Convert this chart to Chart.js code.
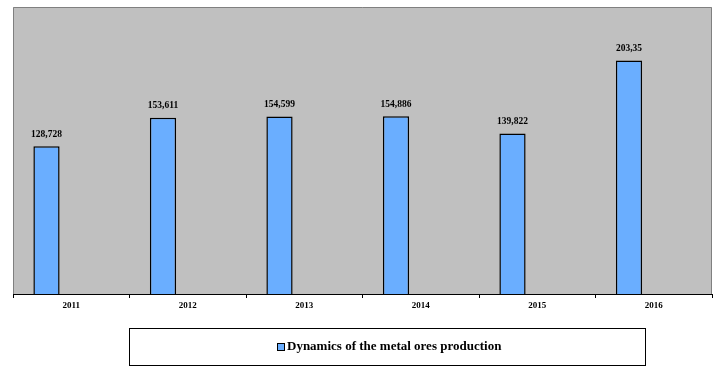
<!DOCTYPE html>
<html>
<head>
<meta charset="utf-8">
<script src="https://cdn.jsdelivr.net/npm/chart.js@4.4.0/dist/chart.umd.min.js"></script>
<style>
html,body{margin:0;padding:0;background:#fff;}
#wrap{width:720px;height:373px;position:relative;}
</style>
</head>
<body>
<div id="wrap"><canvas id="c" width="720" height="373"></canvas></div>
<script>
const categories = ['2011', '2012', '2013', '2014', '2015', '2016'];
const values = [128.728, 153.611, 154.599, 154.886, 139.822, 203.35];
const valueLabels = ['128,728', '153,611', '154,599', '154,886', '139,822', '203,35'];
const seriesName = 'Dynamics of the metal ores production';
const emptySeries = [];

const SERIF = '"Liberation Serif", "Times New Roman", serif';
const BAR_COLOR = '#6AAEFF';

const plotBg = {
  id: 'plotBg',
  beforeDatasetsDraw(chart) {
    const {ctx, chartArea: a} = chart;
    ctx.save();
    ctx.fillStyle = '#C0C0C0';
    ctx.fillRect(a.left, a.top, a.right - a.left, a.bottom - a.top);
    ctx.strokeStyle = '#808080';
    ctx.lineWidth = 1;
    ctx.beginPath();
    ctx.moveTo(a.left + 0.5, a.bottom);
    ctx.lineTo(a.left + 0.5, a.top + 0.5);
    ctx.lineTo(a.right - 0.5, a.top + 0.5);
    ctx.lineTo(a.right - 0.5, a.bottom);
    ctx.stroke();
    ctx.restore();
  }
};

const valueLabelsPlugin = {
  id: 'valueLabels',
  afterDatasetsDraw(chart) {
    const {ctx} = chart;
    const meta = chart.getDatasetMeta(0);
    ctx.save();
    ctx.font = 'bold 9.5px ' + SERIF;
    ctx.fillStyle = '#000';
    ctx.textAlign = 'center';
    ctx.textBaseline = 'middle';
    meta.data.forEach((bar, i) => {
      ctx.fillText(valueLabels[i], bar.x, bar.y - 12);
    });
    ctx.restore();
  }
};

const legendBox = {
  id: 'legendBox',
  afterDraw(chart) {
    const {ctx} = chart;
    const bx = 129, by = 328, bw = 516, bh = 37;
    ctx.save();
    ctx.fillStyle = '#fff';
    ctx.fillRect(bx, by, bw, bh);
    ctx.strokeStyle = '#000';
    ctx.lineWidth = 1;
    ctx.strokeRect(bx + 0.5, by + 0.5, bw, bh);
    ctx.font = 'bold 13px ' + SERIF;
    const tw = ctx.measureText(seriesName).width;
    const mk = 8, gap = 2;
    const total = mk + gap + tw;
    const cx = bx + bw / 2 + 2;
    const cy = by + bh / 2 + 0.5;
    const x0 = Math.round(cx - total / 2);
    ctx.fillStyle = BAR_COLOR;
    ctx.fillRect(x0, Math.round(cy - mk / 2), mk, mk);
    ctx.strokeStyle = '#000';
    ctx.strokeRect(x0 + 0.5, Math.round(cy - mk / 2) + 0.5, mk - 1, mk - 1);
    ctx.fillStyle = '#000';
    ctx.textAlign = 'left';
    ctx.textBaseline = 'middle';
    ctx.fillText(seriesName, x0 + mk + gap, cy);
    ctx.restore();
  }
};

new Chart(document.getElementById('c'), {
  type: 'bar',
  data: {
    labels: categories,
    datasets: [
      {
        label: seriesName,
        data: values,
        backgroundColor: BAR_COLOR,
        borderColor: '#000',
        borderWidth: 1.5,
        barPercentage: 0.53,
        categoryPercentage: 0.85
      },
      {
        label: '',
        data: emptySeries,
        backgroundColor: 'rgba(0,0,0,0)',
        barPercentage: 0.53,
        categoryPercentage: 0.85
      }
    ]
  },
  options: {
    responsive: false,
    animation: false,
    layout: { padding: { left: 13, right: 8, top: 7, bottom: 59 } },
    plugins: {
      legend: { display: false },
      tooltip: { enabled: false }
    },
    scales: {
      x: {
        offset: true,
        grid: {
          display: true,
          offset: true,
          drawOnChartArea: false,
          drawTicks: true,
          tickLength: 4,
          color: '#000'
        },
        border: { display: true, color: '#000', width: 1 },
        ticks: {
          color: '#000',
          padding: 2,
          font: { family: SERIF, size: 9, weight: 'bold' },
          maxRotation: 0
        },
        afterFit(scale) { scale.height = 20; }
      },
      y: {
        display: false,
        min: 0,
        max: 250
      }
    }
  },
  plugins: [plotBg, valueLabelsPlugin, legendBox]
});
</script>
</body>
</html>
